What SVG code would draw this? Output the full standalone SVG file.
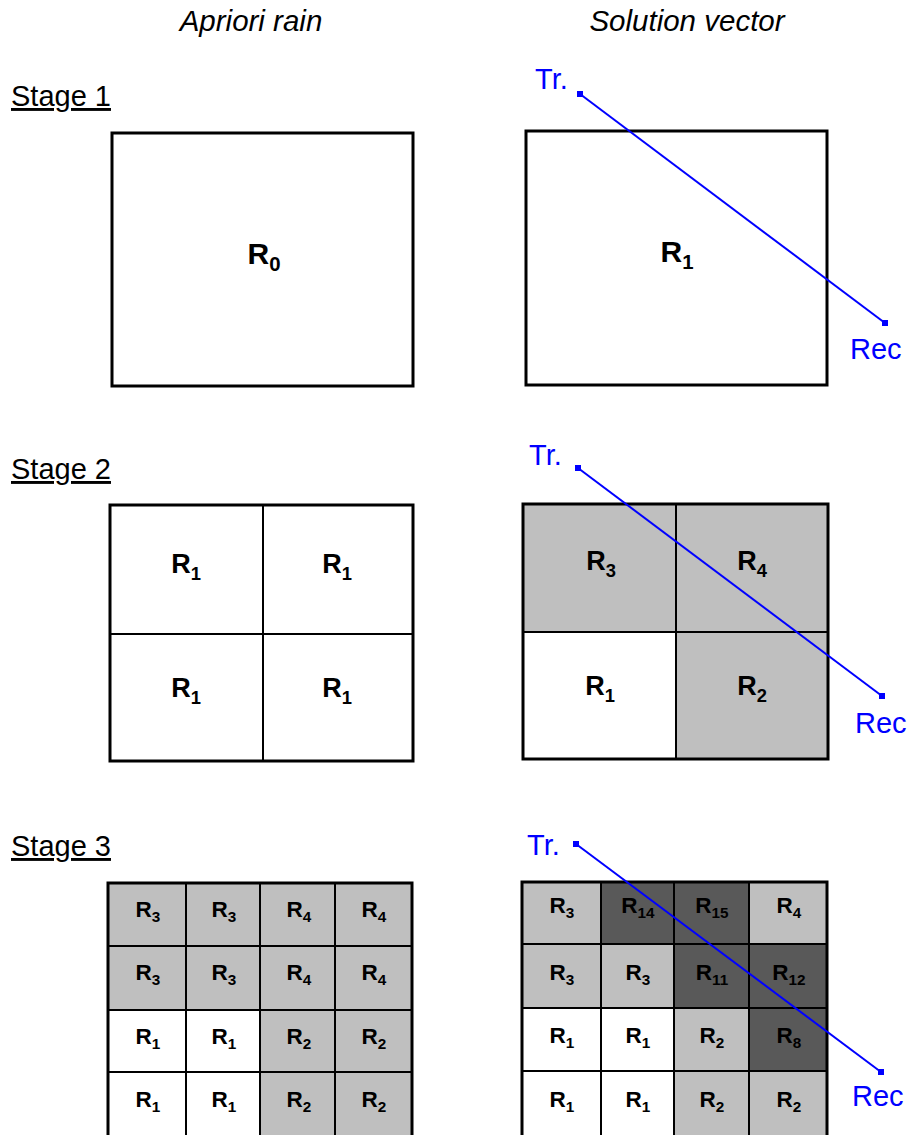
<svg xmlns="http://www.w3.org/2000/svg" width="909" height="1135" viewBox="0 0 909 1135">
<style>
.title{font-family:"Liberation Sans",Arial,sans-serif;font-size:29.5px;font-style:italic;fill:#000}
.stage{font-family:"Liberation Sans",Arial,sans-serif;font-size:29px;fill:#000;text-decoration:underline}
.blue{font-family:"Liberation Sans",Arial,sans-serif;font-size:29px;fill:#0000ff}
.box{fill:none;stroke:#000;stroke-width:3}
.div{stroke:#000;stroke-width:2;fill:none}
.g{fill:#bfbfbf}
.d{fill:#595959}
.w{fill:#fff}
.l1{font-family:"Liberation Sans",Arial,sans-serif;font-weight:bold;font-size:30px;text-anchor:middle;fill:#000}
.l2{font-family:"Liberation Sans",Arial,sans-serif;font-weight:bold;font-size:27px;text-anchor:middle;fill:#000}
.l3{font-family:"Liberation Sans",Arial,sans-serif;font-weight:bold;font-size:22.5px;text-anchor:middle;fill:#000}
.s{font-size:0.68em}
.ray{stroke:#0000ff;stroke-width:2;fill:none}
</style>
<defs>
<marker id="sq" markerWidth="8" markerHeight="8" refX="4" refY="4" markerUnits="userSpaceOnUse">
<rect x="1" y="1" width="6" height="6" fill="#0000ff"/>
</marker>
</defs>

<g id="titles">
<text class="title" x="251" y="31" text-anchor="middle">Apriori rain</text>
<text class="title" x="687" y="31" text-anchor="middle">Solution vector</text>
<text class="stage" x="11" y="106">Stage 1</text>
<text class="stage" x="11" y="479">Stage 2</text>
<text class="stage" x="11" y="856">Stage 3</text>
</g>

<!-- Stage 1 -->
<g id="s1-apriori">
<rect class="box" x="112" y="133" width="301" height="253" fill="#fff"/>
<text class="l1" x="264" y="264">R<tspan class="s" dy="7">0</tspan></text>
</g>
<g id="s1-solution">
<rect class="box" x="526" y="131" width="301" height="254" fill="#fff"/>
<text class="l1" x="677" y="262">R<tspan class="s" dy="7">1</tspan></text>
</g>

<!-- Stage 2 -->
<g id="s2-apriori">
<rect x="110" y="505" width="303" height="256" fill="#fff"/>
<line class="div" x1="263" y1="505" x2="263" y2="761"/>
<line class="div" x1="110" y1="634" x2="413" y2="634"/>
<rect class="box" x="110" y="505" width="303" height="256"/>
<text class="l2" x="186" y="573">R<tspan class="s" dy="7">1</tspan></text>
<text class="l2" x="337" y="573">R<tspan class="s" dy="7">1</tspan></text>
<text class="l2" x="186" y="697">R<tspan class="s" dy="7">1</tspan></text>
<text class="l2" x="337" y="697">R<tspan class="s" dy="7">1</tspan></text>
</g>
<g id="s2-solution">
<rect class="g" x="523" y="504" width="153" height="128"/>
<rect class="g" x="676" y="504" width="152" height="128"/>
<rect class="w" x="523" y="632" width="153" height="127"/>
<rect class="g" x="676" y="632" width="152" height="127"/>
<line class="div" x1="676" y1="504" x2="676" y2="759"/>
<line class="div" x1="523" y1="632" x2="828" y2="632"/>
<rect class="box" x="523" y="504" width="305" height="255"/>
<text class="l2" x="601" y="570">R<tspan class="s" dy="7">3</tspan></text>
<text class="l2" x="752" y="570">R<tspan class="s" dy="7">4</tspan></text>
<text class="l2" x="600" y="695">R<tspan class="s" dy="7">1</tspan></text>
<text class="l2" x="752" y="695">R<tspan class="s" dy="7">2</tspan></text>
</g>

<!-- Stage 3 -->
<g id="s3-apriori">
<rect class="g" x="108" y="883" width="152" height="127"/>
<rect class="g" x="260" y="883" width="152" height="127"/>
<rect class="w" x="108" y="1010" width="152" height="127"/>
<rect class="g" x="260" y="1010" width="152" height="127"/>
<g class="div">
<line x1="186" y1="883" x2="186" y2="1137"/>
<line x1="260" y1="883" x2="260" y2="1137"/>
<line x1="335" y1="883" x2="335" y2="1137"/>
<line x1="108" y1="946" x2="412" y2="946"/>
<line x1="108" y1="1010" x2="412" y2="1010"/>
<line x1="108" y1="1072" x2="412" y2="1072"/>
</g>
<rect class="box" x="108" y="883" width="304" height="256"/>
<text class="l3" x="148" y="917">R<tspan class="s" dy="5">3</tspan></text>
<text class="l3" x="224" y="917">R<tspan class="s" dy="5">3</tspan></text>
<text class="l3" x="299" y="917">R<tspan class="s" dy="5">4</tspan></text>
<text class="l3" x="374" y="917">R<tspan class="s" dy="5">4</tspan></text>
<text class="l3" x="148" y="980">R<tspan class="s" dy="5">3</tspan></text>
<text class="l3" x="224" y="980">R<tspan class="s" dy="5">3</tspan></text>
<text class="l3" x="299" y="980">R<tspan class="s" dy="5">4</tspan></text>
<text class="l3" x="374" y="980">R<tspan class="s" dy="5">4</tspan></text>
<text class="l3" x="148" y="1044">R<tspan class="s" dy="5">1</tspan></text>
<text class="l3" x="224" y="1044">R<tspan class="s" dy="5">1</tspan></text>
<text class="l3" x="299" y="1044">R<tspan class="s" dy="5">2</tspan></text>
<text class="l3" x="374" y="1044">R<tspan class="s" dy="5">2</tspan></text>
<text class="l3" x="148" y="1107">R<tspan class="s" dy="5">1</tspan></text>
<text class="l3" x="224" y="1107">R<tspan class="s" dy="5">1</tspan></text>
<text class="l3" x="299" y="1107">R<tspan class="s" dy="5">2</tspan></text>
<text class="l3" x="374" y="1107">R<tspan class="s" dy="5">2</tspan></text>
</g>
<g id="s3-solution">
<rect class="g" x="522" y="882" width="79" height="62"/>
<rect class="d" x="601" y="882" width="73" height="62"/>
<rect class="d" x="674" y="882" width="75" height="62"/>
<rect class="g" x="749" y="882" width="78" height="62"/>
<rect class="g" x="522" y="944" width="152" height="64"/>
<rect class="d" x="674" y="944" width="153" height="64"/>
<rect class="w" x="522" y="1008" width="152" height="130"/>
<rect class="g" x="674" y="1008" width="75" height="130"/>
<rect class="d" x="749" y="1008" width="78" height="63"/>
<rect class="g" x="749" y="1071" width="78" height="67"/>
<g class="div">
<line x1="601" y1="882" x2="601" y2="1137"/>
<line x1="674" y1="882" x2="674" y2="1137"/>
<line x1="749" y1="882" x2="749" y2="1137"/>
<line x1="522" y1="944" x2="827" y2="944"/>
<line x1="522" y1="1008" x2="827" y2="1008"/>
<line x1="522" y1="1071" x2="827" y2="1071"/>
</g>
<rect class="box" x="522" y="882" width="305" height="257"/>
<text class="l3" x="562" y="913">R<tspan class="s" dy="5">3</tspan></text>
<text class="l3" x="638" y="913">R<tspan class="s" dy="5">14</tspan></text>
<text class="l3" x="712" y="913">R<tspan class="s" dy="5">15</tspan></text>
<text class="l3" x="789" y="913">R<tspan class="s" dy="5">4</tspan></text>
<text class="l3" x="562" y="980">R<tspan class="s" dy="5">3</tspan></text>
<text class="l3" x="638" y="980">R<tspan class="s" dy="5">3</tspan></text>
<text class="l3" x="712" y="980">R<tspan class="s" dy="5">11</tspan></text>
<text class="l3" x="789" y="980">R<tspan class="s" dy="5">12</tspan></text>
<text class="l3" x="562" y="1043">R<tspan class="s" dy="5">1</tspan></text>
<text class="l3" x="638" y="1043">R<tspan class="s" dy="5">1</tspan></text>
<text class="l3" x="712" y="1043">R<tspan class="s" dy="5">2</tspan></text>
<text class="l3" x="789" y="1043">R<tspan class="s" dy="5">8</tspan></text>
<text class="l3" x="562" y="1107">R<tspan class="s" dy="5">1</tspan></text>
<text class="l3" x="638" y="1107">R<tspan class="s" dy="5">1</tspan></text>
<text class="l3" x="712" y="1107">R<tspan class="s" dy="5">2</tspan></text>
<text class="l3" x="789" y="1107">R<tspan class="s" dy="5">2</tspan></text>
</g>

<!-- Rays -->
<g id="connectors">
<line class="ray" x1="580" y1="94" x2="885" y2="323" marker-start="url(#sq)" marker-end="url(#sq)"/>
<line class="ray" x1="578" y1="468" x2="882" y2="696" marker-start="url(#sq)" marker-end="url(#sq)"/>
<line class="ray" x1="576" y1="844" x2="881" y2="1072" marker-start="url(#sq)" marker-end="url(#sq)"/>
</g>
<g id="ray-labels">
<text class="blue" x="535" y="89">Tr.</text>
<text class="blue" x="850" y="359">Rec</text>
<text class="blue" x="529" y="465">Tr.</text>
<text class="blue" x="855" y="733">Rec</text>
<text class="blue" x="527" y="855">Tr.</text>
<text class="blue" x="852" y="1106">Rec</text>
</g>
</svg>
